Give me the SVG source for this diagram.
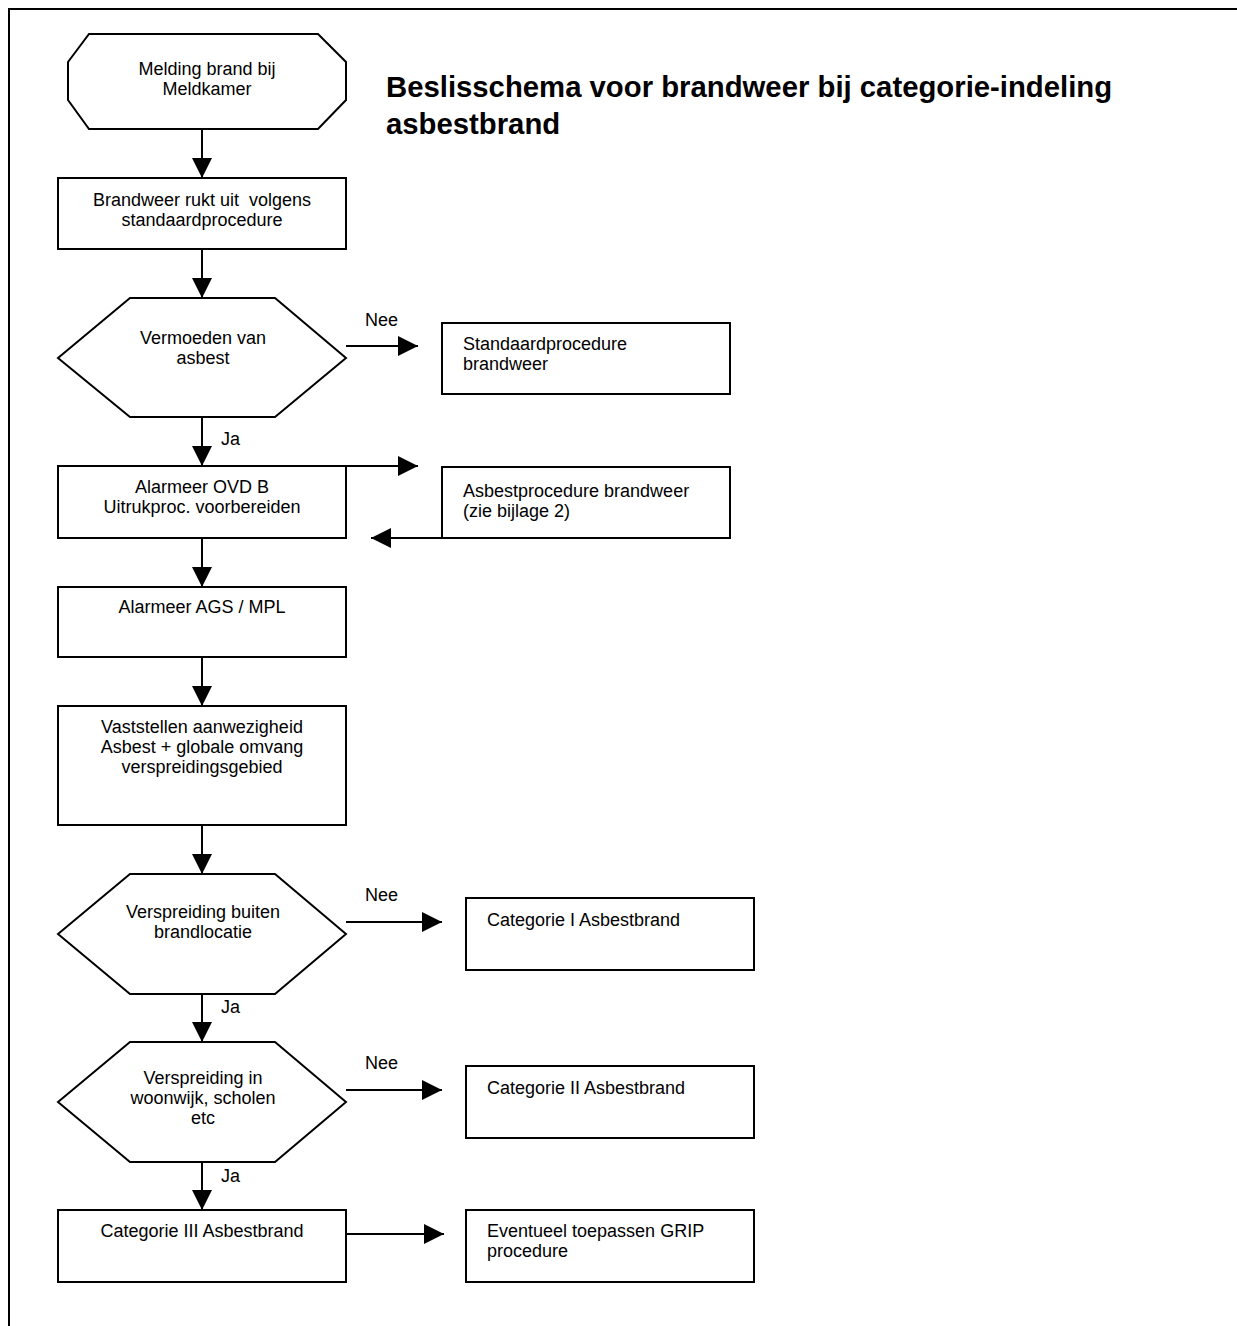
<svg xmlns="http://www.w3.org/2000/svg" width="1237" height="1326" viewBox="0 0 1237 1326">
<style>
.s{fill:#fff;stroke:#000;stroke-width:2}
.t{font-family:"Liberation Sans",Arial,sans-serif;font-size:18px;fill:#000;white-space:pre}
.c{text-anchor:middle}
.ttl{font-family:"Liberation Sans",Arial,sans-serif;font-size:29.3px;font-weight:bold;fill:#000}
.ln{fill:none;stroke:#000;stroke-width:2}
</style>
<defs>
<marker id="ah" markerUnits="userSpaceOnUse" markerWidth="20" markerHeight="20" refX="20" refY="10" orient="auto">
<path d="M0,0 L20,10 L0,20 z" fill="#000"/>
</marker>
</defs>
<rect x="0" y="0" width="1237" height="1326" fill="#fff"/>
<rect x="9" y="9" width="1250" height="1340" fill="none" stroke="#000" stroke-width="2"/>
<g id="title">
<text class="ttl" x="386" y="97">Beslisschema voor brandweer bij categorie-indeling</text>
<text class="ttl" x="386" y="134">asbestbrand</text>
</g>
<g id="n1">
<polygon class="s" points="89,34 318,34 346,62 346,100 318,129 89,129 68,100 68,62"/>
<text class="t c" x="207" y="75">Melding brand bij</text>
<text class="t c" x="207" y="95">Meldkamer</text>
</g>
<g id="n2">
<rect class="s" x="58" y="178" width="288" height="71"/>
<text class="t c" x="202" y="206">Brandweer rukt uit  volgens</text>
<text class="t c" x="202" y="226">standaardprocedure</text>
</g>
<g id="n3">
<polygon class="s" points="130,298 275,298 346,358 275,417 130,417 58,358"/>
<text class="t c" x="203" y="344">Vermoeden van</text>
<text class="t c" x="203" y="364">asbest</text>
</g>
<g id="n4">
<rect class="s" x="442" y="323" width="288" height="71"/>
<text class="t" x="463" y="350">Standaardprocedure</text>
<text class="t" x="463" y="370">brandweer</text>
</g>
<g id="n5">
<rect class="s" x="58" y="466" width="288" height="72"/>
<text class="t c" x="202" y="493">Alarmeer OVD B</text>
<text class="t c" x="202" y="513">Uitrukproc. voorbereiden</text>
</g>
<g id="n6">
<rect class="s" x="442" y="467" width="288" height="71"/>
<text class="t" x="463" y="497">Asbestprocedure brandweer</text>
<text class="t" x="463" y="517">(zie bijlage 2)</text>
</g>
<g id="n7">
<rect class="s" x="58" y="587" width="288" height="70"/>
<text class="t c" x="202" y="613">Alarmeer AGS / MPL</text>
</g>
<g id="n8">
<rect class="s" x="58" y="706" width="288" height="119"/>
<text class="t c" x="202" y="733">Vaststellen aanwezigheid</text>
<text class="t c" x="202" y="753">Asbest + globale omvang</text>
<text class="t c" x="202" y="773">verspreidingsgebied</text>
</g>
<g id="n9">
<polygon class="s" points="130,874 275,874 346,934 275,994 130,994 58,934"/>
<text class="t c" x="203" y="918">Verspreiding buiten</text>
<text class="t c" x="203" y="938">brandlocatie</text>
</g>
<g id="n10">
<rect class="s" x="466" y="898" width="288" height="72"/>
<text class="t" x="487" y="926">Categorie I Asbestbrand</text>
</g>
<g id="n11">
<polygon class="s" points="130,1042 275,1042 346,1102 275,1162 130,1162 58,1102"/>
<text class="t c" x="203" y="1084">Verspreiding in</text>
<text class="t c" x="203" y="1104">woonwijk, scholen</text>
<text class="t c" x="203" y="1124">etc</text>
</g>
<g id="n12">
<rect class="s" x="466" y="1066" width="288" height="72"/>
<text class="t" x="487" y="1094">Categorie II Asbestbrand</text>
</g>
<g id="n13">
<rect class="s" x="58" y="1210" width="288" height="72"/>
<text class="t c" x="202" y="1237">Categorie III Asbestbrand</text>
</g>
<g id="n14">
<rect class="s" x="466" y="1210" width="288" height="72"/>
<text class="t" x="487" y="1237">Eventueel toepassen GRIP</text>
<text class="t" x="487" y="1257">procedure</text>
</g>
<g id="connectors">
<line class="ln" x1="202" y1="129" x2="202" y2="178" marker-end="url(#ah)"/>
<line class="ln" x1="202" y1="249" x2="202" y2="298" marker-end="url(#ah)"/>
<line class="ln" x1="202" y1="417" x2="202" y2="466" marker-end="url(#ah)"/>
<line class="ln" x1="202" y1="538" x2="202" y2="587" marker-end="url(#ah)"/>
<line class="ln" x1="202" y1="657" x2="202" y2="706" marker-end="url(#ah)"/>
<line class="ln" x1="202" y1="825" x2="202" y2="874" marker-end="url(#ah)"/>
<line class="ln" x1="202" y1="994" x2="202" y2="1042" marker-end="url(#ah)"/>
<line class="ln" x1="202" y1="1162" x2="202" y2="1210" marker-end="url(#ah)"/>
<line class="ln" x1="346" y1="346" x2="418" y2="346" marker-end="url(#ah)"/>
<line class="ln" x1="346" y1="466" x2="418" y2="466" marker-end="url(#ah)"/>
<line class="ln" x1="442" y1="538" x2="371" y2="538" marker-end="url(#ah)"/>
<line class="ln" x1="346" y1="922" x2="442" y2="922" marker-end="url(#ah)"/>
<line class="ln" x1="346" y1="1090" x2="442" y2="1090" marker-end="url(#ah)"/>
<line class="ln" x1="346" y1="1234" x2="444" y2="1234" marker-end="url(#ah)"/>
<text class="t" x="365" y="326">Nee</text>
<text class="t" x="221" y="445">Ja</text>
<text class="t" x="365" y="901">Nee</text>
<text class="t" x="221" y="1013">Ja</text>
<text class="t" x="365" y="1069">Nee</text>
<text class="t" x="221" y="1182">Ja</text>
</g>
</svg>
